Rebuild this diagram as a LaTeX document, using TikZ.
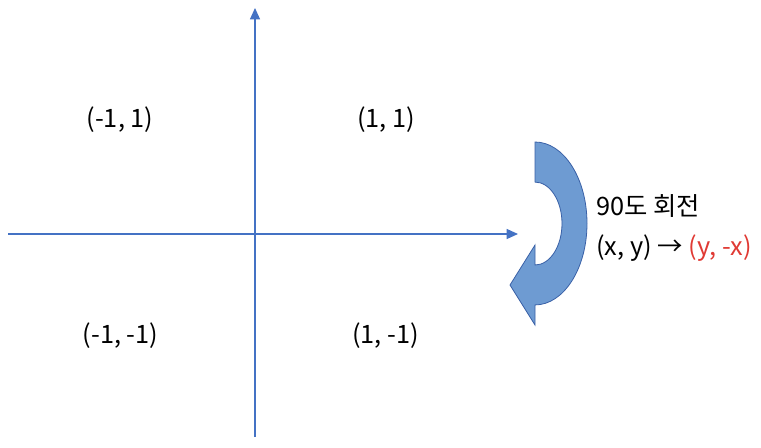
\documentclass[tikz,border=0pt]{standalone}
\usepackage{fontspec}
\setmainfont{Noto Sans CJK KR}
\usetikzlibrary{arrows.meta,positioning}
\definecolor{axisblue}{HTML}{4472C4}
\definecolor{turnfill}{HTML}{6E9BD2}
\definecolor{turnred}{HTML}{E03A34}

\begin{document}
\begin{tikzpicture}[x=0.75pt,y=-0.75pt,
		axis/.style={draw=axisblue,line width=0.9pt,-{Triangle[length=8.5pt,width=7.5pt]}},
		coordlabel/.style={font=\fontsize{19}{23}\selectfont,anchor=base,inner sep=0pt}
		]
		
		\useasboundingbox (0,0) rectangle (761,447);
		
		% axes
		\coordinate (xstart) at (8,234);
		\coordinate (xend) at (518,234);
		\coordinate (ystart) at (255,437);
		\coordinate (yend) at (255,8);
		
		\draw[axis] (xstart)--(xend);
		\draw[axis] (ystart)--(yend);
		
		% quadrant points
		\node[coordlabel]
		(Q2)
		at (120,127)
		{(-1, 1)};
		
		\node[coordlabel]
		(Q1)
		at (386,127)
		{(1, 1)};
		
		\node[coordlabel]
		(Q3)
		at (120.5,343)
		{(-1, -1)};
		
		\node[coordlabel]
		(Q4)
		at (385.5,343)
		{(1, -1)};
		
		% curved arrow
		\draw[
		draw=axisblue!85!black,
		line width=0.6pt,
		fill=turnfill
		]
		(535,142)
		arc[start angle=90,end angle=-90,x radius=39pt,y radius=61.1pt]
		--(535,325)
		--(510,285)
		--(535,245)
		--(535,265)
		arc[start angle=-90,end angle=90,x radius=20.25pt,y radius=31.1pt]
		--cycle;
		
		% rotation rule
		\node[coordlabel,anchor=base west]
		(turnTitle)
		at (596,215)
		{90도 회전};
		
		\node[coordlabel,anchor=base west]
		(turnRule)
		at (596,255)
		{(x, y) → \textcolor{turnred}{(y, -x)}};
		
	\end{tikzpicture}
\end{document}
